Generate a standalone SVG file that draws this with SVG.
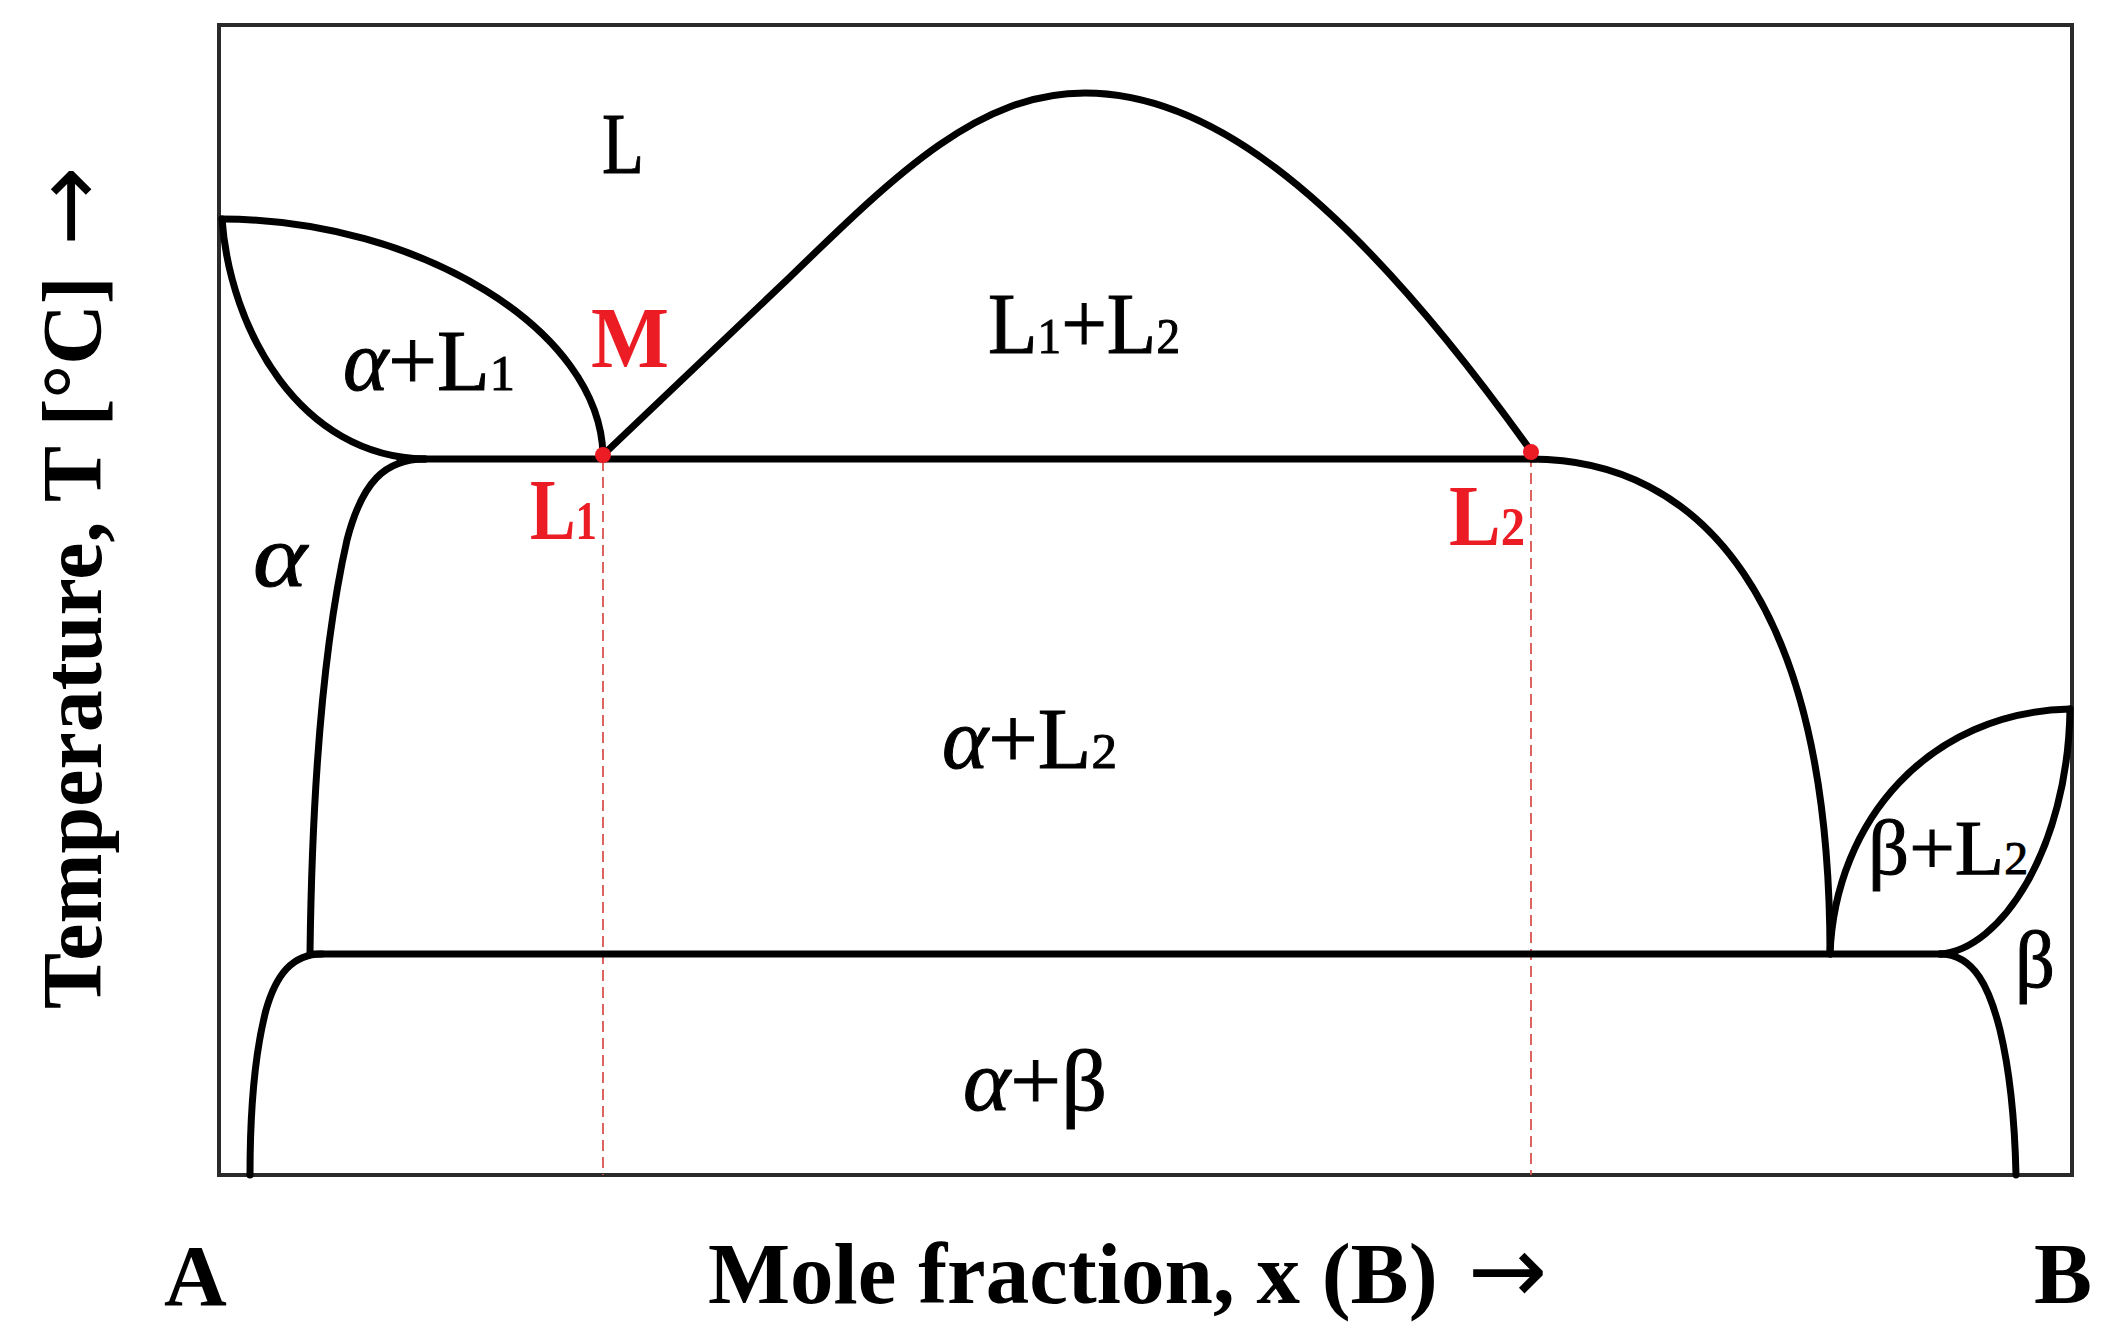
<svg xmlns="http://www.w3.org/2000/svg" width="2110" height="1331" viewBox="0 0 2110 1331">
<style>
.frame{fill:none;stroke:#2a2a2a;stroke-width:4}
.ln{fill:none;stroke:#000;stroke-width:7;stroke-linecap:round;stroke-linejoin:round}
.dash{fill:none;stroke:#d9534f;stroke-width:1.8;stroke-dasharray:11 6}
.dot{fill:#ec1c24}
.ax{font-family:"Liberation Serif","Times New Roman",serif;font-weight:bold;font-size:87px;fill:#000}
.arr{font-family:"DejaVu Sans",sans-serif;font-weight:normal;font-size:95px}
.rg{font-family:"Liberation Serif","Times New Roman",serif;font-size:86px;fill:#000;stroke:#000;stroke-width:1}
.gr{font-style:italic}
.sub{font-size:50px}
.red{font-family:"Liberation Serif","Times New Roman",serif;font-weight:bold;font-size:86px;fill:#ec1c24}
.rsub{font-size:54px}
</style>
<rect width="2110" height="1331" fill="#fff"/>
<rect id="frame" class="frame" x="219" y="25" width="1853" height="1150"/>
<g id="connectors">
  <path class="dash" d="M603,460 L603,1175"/>
  <path class="dash" d="M1531,456 L1531,1175"/>
  <path class="ln" d="M222,219 C420,220 600,330 603,455"/>
  <path class="ln" d="M222,219 C230,330 300,457 425,459"/>
  <path class="ln" d="M400,459 L1535,459"/>
  <path class="ln" d="M425,459 C385,459 362,482 347,540 C322,650 312,800 310,953"/>
  <path class="ln" d="M310,954 L1950,954"/>
  <path class="ln" d="M322,954 C292,954 276,975 266,1010 C253,1060 250,1120 250,1175"/>
  <path class="ln" d="M603,455 L790,277 C900,170 980,93 1085,93 C1195,93 1330,170 1531,451"/>
  <path class="ln" d="M1531,459 C1700,459 1830,600 1830,954"/>
  <path class="ln" d="M1830,954 C1835,820 1930,712 2070,709"/>
  <path class="ln" d="M2070,709 C2068,850 2000,950 1940,954"/>
  <path class="ln" d="M1940,954 C1975,954 1990,990 2000,1030 C2012,1080 2015,1130 2016,1175"/>
  <circle class="dot" cx="603" cy="455" r="8"/>
  <circle class="dot" cx="1531" cy="452" r="8"/>
</g>
<g id="axis-labels">
  <text class="ax" style="font-size:84px" transform="translate(101,1009) rotate(-90)" x="0" y="0">Temperature, T [°C]<tspan class="arr"> →</tspan></text>
  <text class="ax" x="164" y="1305">A</text>
  <text class="ax" x="708" y="1303">Mole fraction, x (B)<tspan class="arr"> →</tspan></text>
  <text class="ax" x="2034" y="1303">B</text>
</g>
<g id="region-L"><text class="rg" x="602" y="173" textLength="42" lengthAdjust="spacingAndGlyphs">L</text></g>
<g id="region-aL1"><text class="rg" x="343" y="390" textLength="172" lengthAdjust="spacingAndGlyphs"><tspan class="gr">α</tspan>+L<tspan class="sub">1</tspan></text></g>
<g id="point-M"><text class="red" x="591" y="367" textLength="78" lengthAdjust="spacingAndGlyphs">M</text></g>
<g id="region-L1L2"><text class="rg" x="988" y="353" textLength="192" lengthAdjust="spacingAndGlyphs">L<tspan class="sub">1</tspan>+L<tspan class="sub">2</tspan></text></g>
<g id="point-L1"><text class="red" x="530" y="539" textLength="67" lengthAdjust="spacingAndGlyphs">L<tspan class="rsub">1</tspan></text></g>
<g id="point-L2"><text class="red" x="1449" y="545" textLength="76" lengthAdjust="spacingAndGlyphs">L<tspan class="rsub">2</tspan></text></g>
<g id="region-a"><text class="rg gr" x="253" y="586" style="font-size:88px" textLength="54" lengthAdjust="spacingAndGlyphs">α</text></g>
<g id="region-aL2"><text class="rg" x="942" y="768" textLength="175" lengthAdjust="spacingAndGlyphs"><tspan class="gr">α</tspan>+L<tspan class="sub">2</tspan></text></g>
<g id="region-bL2"><text class="rg" x="1868" y="874" style="font-size:78px" textLength="160" lengthAdjust="spacingAndGlyphs">β+L<tspan class="sub" style="font-size:46px">2</tspan></text></g>
<g id="region-b"><text class="rg" x="2015" y="987" style="font-size:80px" textLength="40" lengthAdjust="spacingAndGlyphs">β</text></g>
<g id="region-ab"><text class="rg" x="963" y="1110" textLength="144" lengthAdjust="spacingAndGlyphs"><tspan class="gr">α</tspan>+β</text></g>
</svg>
